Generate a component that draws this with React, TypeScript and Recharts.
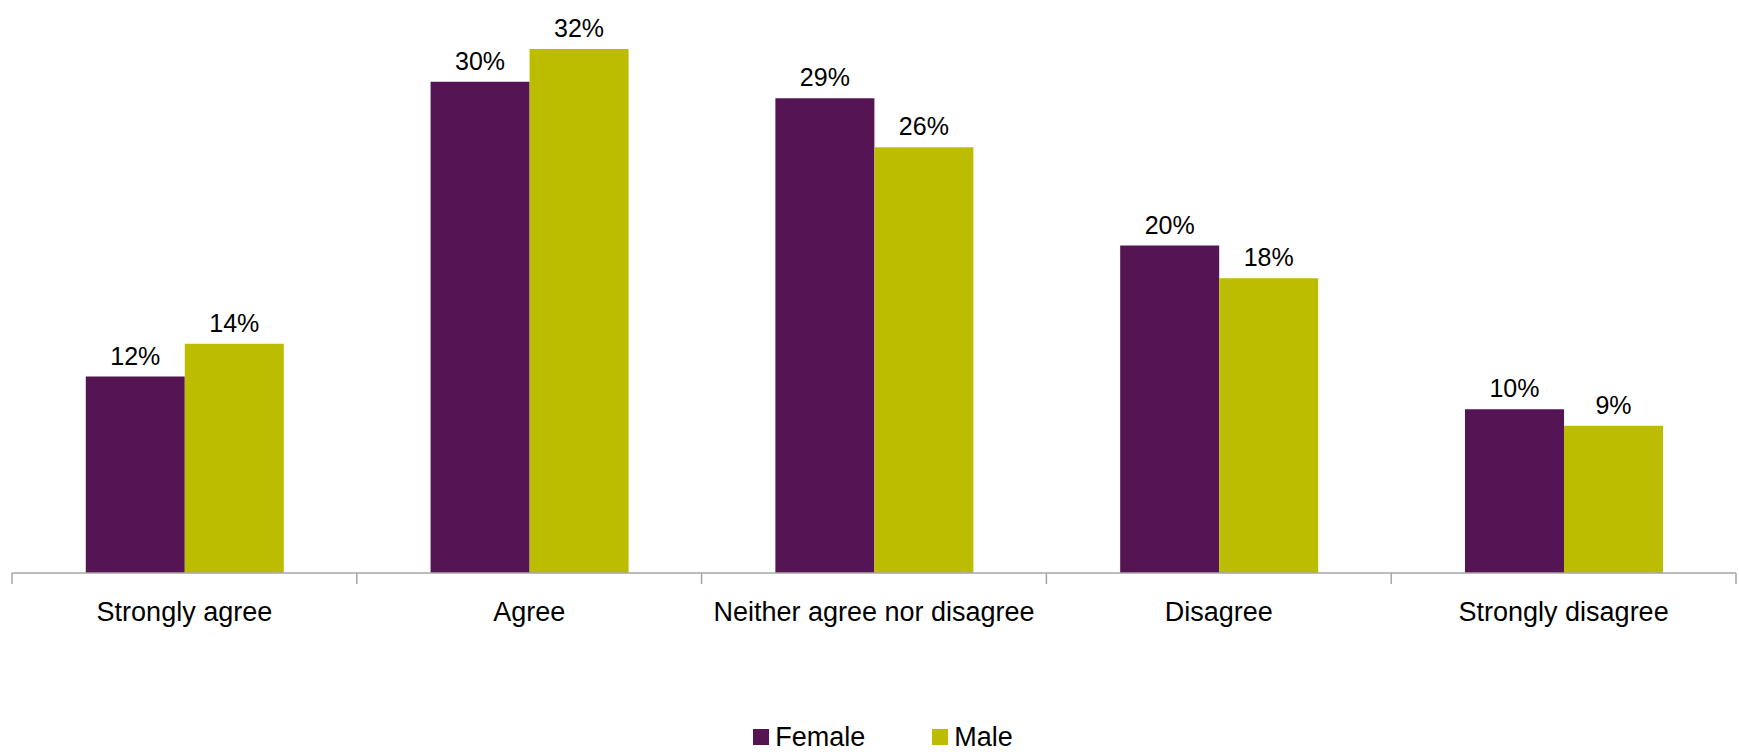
// App.tsx
// Répartition des réponses par sexe (barres groupées)

import { BarChart, Bar, XAxis, YAxis, LabelList, Legend } from 'recharts'

const categories = ['Strongly agree', 'Agree', 'Neither agree nor disagree', 'Disagree', 'Strongly disagree']
const female = [12, 30, 29, 20, 10]
const male = [14, 32, 26, 18, 9]
const seriesNames = ['Female', 'Male']

const PURPLE = '#551453'
const OLIVE = '#bcbd00'
const AXIS_GREY = '#a6a6a6'
const FONT = '"Liberation Sans", Arial, sans-serif'

const W = 1739
const H = 752
const MARGIN = { top: 0, right: 3, left: 12, bottom: 0 }
const PLOT_W = W - MARGIN.left - MARGIN.right

const data = categories.map((name, i) => ({ name, female: female[i], male: male[i] }))

function CategoryTick(props: any) {
  const { x, y, payload, index } = props
  const half = payload?.offset ? payload.offset : PLOT_W / categories.length / 2
  const isLast = index === categories.length - 1
  return (
    <g>
      <line x1={x - half} y1={y} x2={x - half} y2={y + 11} stroke={AXIS_GREY} strokeWidth={1.5} />
      {isLast && <line x1={x + half} y1={y} x2={x + half} y2={y + 11} stroke={AXIS_GREY} strokeWidth={1.5} />}
      <text x={x} y={y + 48} textAnchor="middle" fontSize={27} fontFamily={FONT} fill="#000">
        {payload.value}
      </text>
    </g>
  )
}

function LegendContent() {
  const colors = [PURPLE, OLIVE]
  return (
    <div
      style={{
        height: 30,
        display: 'flex',
        justifyContent: 'center',
        alignItems: 'center',
        paddingLeft: 18,
        fontFamily: FONT,
        fontSize: 27,
        lineHeight: '30px',
        color: '#000'
      }}
    >
      {seriesNames.map((n, i) => (
        <div key={n} style={{ display: 'flex', alignItems: 'center', marginLeft: i === 0 ? 0 : 67 }}>
          <span style={{ width: 16, height: 16, background: colors[i], marginRight: 6, display: 'inline-block' }} />
          <span>{n}</span>
        </div>
      ))}
    </div>
  )
}

export default function App() {
  return (
    <div style={{ position: 'absolute', top: 0, left: 0, width: W, height: H, background: '#fff' }}>
      <BarChart
        width={W}
        height={H}
        data={data}
        margin={MARGIN}
        barCategoryGap="21.4%"
        barGap={0}
      >
        <XAxis
          dataKey="name"
          height={149}
          tickSize={0}
          tickMargin={0}
          tickLine={false}
          axisLine={{ stroke: AXIS_GREY, strokeWidth: 1.5 }}
          tick={<CategoryTick />}
          interval={0}
        />
        <YAxis hide domain={[0, 35]} />
        <Legend
          verticalAlign="bottom"
          content={<LegendContent />}
          wrapperStyle={{ bottom: 0 }}
        />
        <Bar dataKey="female" name="Female" fill={PURPLE} isAnimationActive={false}>
          <LabelList
            dataKey="female"
            position="top"
            offset={12}
            formatter={(v: any) => `${v}%`}
            style={{ fontSize: 25, fontFamily: FONT, fill: '#000' }}
          />
        </Bar>
        <Bar dataKey="male" name="Male" fill={OLIVE} isAnimationActive={false}>
          <LabelList
            dataKey="male"
            position="top"
            offset={12}
            formatter={(v: any) => `${v}%`}
            style={{ fontSize: 25, fontFamily: FONT, fill: '#000' }}
          />
        </Bar>
      </BarChart>
    </div>
  )
}
